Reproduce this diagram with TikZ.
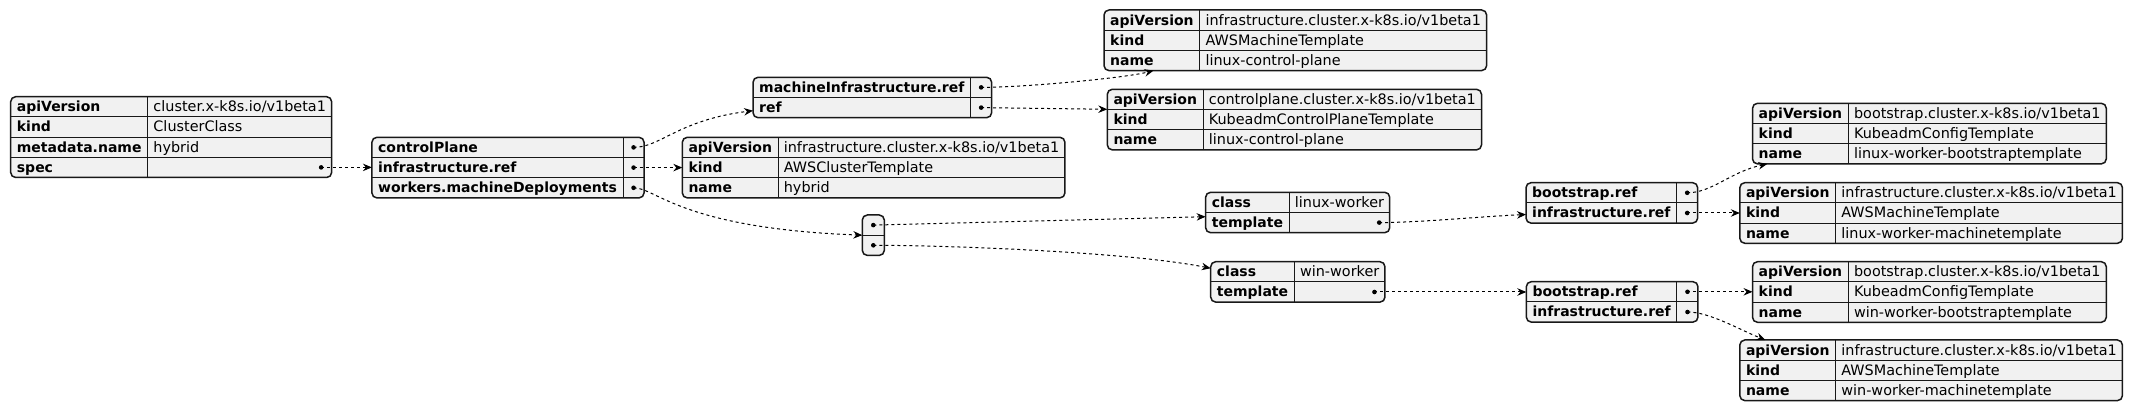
\documentclass[tikz,border=0pt]{standalone}
\usepackage{fontspec}
\setmainfont{DejaVu Sans}
\usetikzlibrary{calc,arrows.meta}
\pgfdeclarelayer{background}
\pgfsetlayers{background,main}
\definecolor{jfill}{HTML}{F1F1F1}
\definecolor{jink}{HTML}{181818}
\newlength\jkw
\newlength\jvw
\newlength\jtl
\def\jrh{20.2}
\def\jstar{*}
\newcommand\jkf{\fontsize{14}{16}\selectfont\bfseries}
\newcommand\jvf{\fontsize{14.4}{16}\selectfont}
\tikzset{
  jframe/.style={draw=jink, fill=jfill, line width=1.5pt, rounded corners=5pt, inner sep=0pt, outer sep=0pt},
  jline/.style={draw=jink, line width=1pt},
  jkey/.style={inner sep=0pt, text height=10pt, text depth=0pt, font=\jkf, text=black},
  jval/.style={inner sep=0pt, text height=10pt, text depth=0pt, font=\jvf, text=black},
  jdot/.style={circle, fill=black, inner sep=0pt, minimum size=4.6pt},
  jedge/.style={draw=black, line width=1pt, dash pattern=on 3pt off 3pt, -{Stealth[length=9pt,width=7.5pt,inset=3pt]}},
}
% #1 name, #2 x, #3 y (image px, y down), #4 rows key/value
\newcommand\jbox[4]{%
  \global\jkw=0pt
  \foreach \kk/\vv [count=\ii] in {#4} {%
    \node[jkey, anchor=west] (#1-k\ii) at (#2+6,{#3+(\ii-0.5)*\jrh}) {\kk};
    \pgfextractx{\jtl}{\pgfpointanchor{#1-k\ii}{east}}%
    \ifdim\jtl>\jkw \global\jkw=\jtl\fi
    \xdef\jn{\ii}}%
  \pgfmathsetmacro\jdx{\jkw+6}%
  \global\jvw=0pt
  \foreach \kk/\vv [count=\ii] in {#4} {%
    \edef\jtmp{\vv}%
    \ifx\jtmp\jstar\else
      \node[jval, anchor=west] (#1-v\ii) at (\jdx+5.5,{#3+(\ii-0.5)*\jrh}) {\vv};
      \pgfextractx{\jtl}{\pgfpointanchor{#1-v\ii}{east}}%
      \ifdim\jtl>\jvw \global\jvw=\jtl\fi
    \fi}%
  \pgfmathsetmacro\jrx{max(\jvw+5.5,\jdx+21)}%
  \begin{pgfonlayer}{background}
    \node[jframe, anchor=north west, minimum width=\jrx-#2, minimum height=\jn*\jrh] (#1) at (#2,#3) {};
    \draw[jline] (\jdx,#3) -- (\jdx,{#3+\jn*\jrh});
    \foreach \ii in {2,...,\jn} {\draw[jline] (#2,{#3+(\ii-1)*\jrh}) -- (\jrx,{#3+(\ii-1)*\jrh});}
  \end{pgfonlayer}
  \foreach \kk/\vv [count=\ii] in {#4} {%
    \edef\jtmp{\vv}%
    \ifx\jtmp\jstar
      \node[jdot] (#1-d\ii) at (\jrx-10.5,{#3+(\ii-0.5)*\jrh}) {};
    \fi}%
}
\begin{document}
\begin{tikzpicture}[x=1pt, y=-1pt]
\begin{pgfonlayer}{background}
\fill[white] (0,0) rectangle (2135,411);
\end{pgfonlayer}
\useasboundingbox (0,0) rectangle (2135,411);

\jbox{R}{10.7}{96.7}{apiVersion/{cluster.x-k8s.io/v1beta1},kind/ClusterClass,metadata.name/hybrid,spec/*}
\jbox{B}{371.9}{137.3}{controlPlane/*,infrastructure.ref/*,workers.machineDeployments/*}
\jbox{C}{753}{77.3}{machineInfrastructure.ref/*,ref/*}
\jbox{B2}{682.3}{137.3}{apiVersion/{infrastructure.cluster.x-k8s.io/v1beta1},kind/AWSClusterTemplate,name/hybrid}
\jbox{D1}{1104}{10}{apiVersion/{infrastructure.cluster.x-k8s.io/v1beta1},kind/AWSMachineTemplate,name/linux-control-plane}
\jbox{D2}{1107.3}{89.3}{apiVersion/{controlplane.cluster.x-k8s.io/v1beta1},kind/KubeadmControlPlaneTemplate,name/linux-control-plane}
\jbox{LW}{1205.6}{192.3}{class/linux-worker,template/*}
\jbox{WW}{1210.7}{261.7}{class/win-worker,template/*}
\jbox{LT}{1526}{182.7}{bootstrap.ref/*,infrastructure.ref/*}
\jbox{WT}{1526.3}{281.7}{bootstrap.ref/*,infrastructure.ref/*}
\jbox{LB}{1752.5}{103.3}{apiVersion/{bootstrap.cluster.x-k8s.io/v1beta1},kind/KubeadmConfigTemplate,name/linux-worker-bootstraptemplate}
\jbox{LM}{1739.8}{182.7}{apiVersion/{infrastructure.cluster.x-k8s.io/v1beta1},kind/AWSMachineTemplate,name/linux-worker-machinetemplate}
\jbox{WB}{1752.5}{261.7}{apiVersion/{bootstrap.cluster.x-k8s.io/v1beta1},kind/KubeadmConfigTemplate,name/win-worker-bootstraptemplate}
\jbox{WM}{1739.8}{340}{apiVersion/{infrastructure.cluster.x-k8s.io/v1beta1},kind/AWSMachineTemplate,name/win-worker-machinetemplate}

% array box
\begin{pgfonlayer}{background}
\node[jframe, anchor=north west, minimum width=22, minimum height=2*\jrh] (Arr) at (862.3,215) {};
\draw[jline] ($(Arr.north west)+(0,\jrh)$) -- ++(22,0);
\end{pgfonlayer}
\node[jdot] (Arr-d1) at ($(Arr.north)+(0,0.5*\jrh)$) {};
\node[jdot] (Arr-d2) at ($(Arr.north)+(0,1.5*\jrh)$) {};

% connectors
\draw[jedge] (R-d4.center) -- (R-d4.center -| B.west);
\coordinate (C-in) at ($(C.north west)+(0,33.4)$);
\draw[jedge] (B-d1.center) .. controls +(27,0) and +(-74.7,9.3) .. (C-in);
\draw[jedge] (B-d2.center) -- (B-d2.center -| B2.west);
\draw[jedge] (B-d3.center) .. controls +(23,0) and +(-182,-7) .. (Arr.west);
\coordinate (D1-in) at ($(D1.south west)+(49.5,0)$);
\draw[jedge] (C-d1.center) .. controls +(43.5,0) and +(-28.5,7.4) .. (D1-in);
\coordinate (D2-in) at ($(D2.north west)+(0,20)$);
\draw[jedge] (C-d2.center) -- (D2-in);
\coordinate (LW-in) at ($(LW.north west)+(0,24.4)$);
\draw[jedge] (Arr-d1.center) -- (LW-in);
\coordinate (WW-in) at ($(WW.north west)+(0,6.6)$);
\draw[jedge] (Arr-d2.center) .. controls +(75,0) and +(-80.7,-16.3) .. (WW-in);
\coordinate (LT-in) at ($(LT.north west)+(0,31.8)$);
\draw[jedge] (LW-d2.center) .. controls +(40,0) and +(-45,2) .. (LT-in);
\draw[jedge] (WW-d2.center) -- (WW-d2.center -| WT.west);
\coordinate (LB-in) at ($(LB.south west)+(14.8,0)$);
\draw[jedge] (LT-d1.center) .. controls +(25,0) and +(-37.3,8.1) .. (LB-in);
\draw[jedge] (LT-d2.center) -- (LT-d2.center -| LM.west);
\draw[jedge] (WT-d1.center) -- (WT-d1.center -| WB.west);
\coordinate (WM-in) at ($(WM.north west)+(25.5,0)$);
\draw[jedge] (WT-d2.center) .. controls +(22,0) and +(-27.3,-11) .. (WM-in);
\end{tikzpicture}
\end{document}
